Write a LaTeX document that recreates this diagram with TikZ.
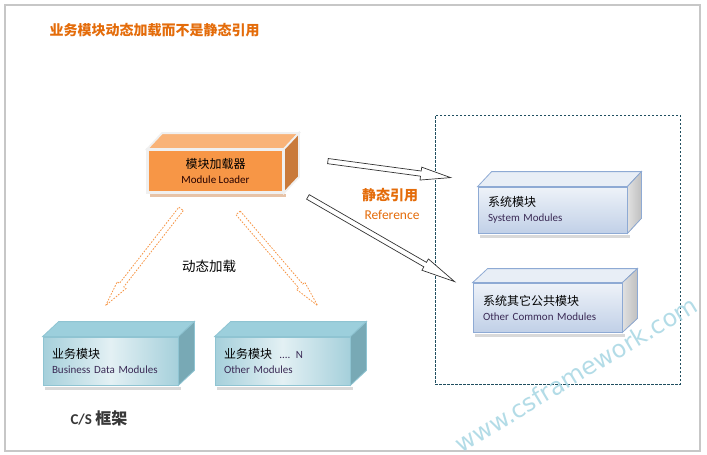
\documentclass[tikz,border=0pt]{standalone}
\usepackage{fontspec}
\setmainfont{Carlito}
\newfontfamily\cjk{Noto Sans CJK SC}
\newfontfamily\wmfont{DejaVu Sans}
\newcommand{\zh}{\cjk\fontsize{12}{14}\selectfont}
\usetikzlibrary{calc}
\definecolor{titleorange}{HTML}{E46C0A}
\definecolor{ldfront}{HTML}{F79646}
\definecolor{ldtop}{HTML}{F9B378}
\definecolor{ldside}{HTML}{C97A3B}
\definecolor{sysedge}{HTML}{8EAAD4}
\definecolor{bustop}{HTML}{9CCFDC}
\definecolor{busside}{HTML}{78A9B5}
\definecolor{busedge}{HTML}{8FC4D2}
\definecolor{grpline}{HTML}{1F4E5F}
\definecolor{engtext}{HTML}{3A2A55}
\definecolor{wmark}{HTML}{A6D6E3}

% front face given by a node, top and side faces drawn from its anchors
\newcommand{\boxfaces}[5]{%
  \filldraw[#4] (#1.north west) -- ($(#1.north west)+(#2,-#3)$) -- ($(#1.north east)+(#2,-#3)$) -- (#1.north east) -- cycle;
  \filldraw[#5] (#1.north east) -- ($(#1.north east)+(#2,-#3)$) -- ($(#1.south east)+(#2,-#3)$) -- (#1.south east) -- cycle;
}
% hollow block arrow: from, to, shaft half width, head half width, head length, style
\newcommand{\blockarrow}[6]{%
  \coordinate (ah) at ($(#2)!#5!(#1)$);
  \filldraw[#6] ($(#1)!#3!90:(#2)$) -- ($(ah)!#3!90:(#2)$) -- ($(ah)!#4!90:(#2)$) -- (#2)
    -- ($(ah)!#4!-90:(#2)$) -- ($(ah)!#3!-90:(#2)$) -- ($(#1)!#3!-90:(#2)$) -- cycle;
}

\begin{document}
\begin{tikzpicture}[x=1pt,y=-1pt,
  frontbox/.style={inner sep=0pt, align=left, font=\fontsize{11}{13}\selectfont},
  loaderbox/.style={frontbox, fill=ldfront, draw=white!94!black, line width=1.8pt,
    minimum width=135pt, minimum height=42pt, align=center},
  sysbox/.style={frontbox, top color=white!85!sysedge, bottom color=sysedge!55,
    draw=sysedge, line width=0.8pt, minimum width=149pt, text width=129pt},
  busbox/.style={frontbox, left color=busedge!80, right color=busedge!80, middle color=busedge!25,
    draw=busedge, line width=0.8pt, minimum width=135pt, minimum height=48pt, text width=117pt},
  refarrow/.style={draw=black!80, fill=white, line width=0.7pt},
  loadarrow/.style={draw=ldfront, fill=white, line width=0.8pt, dash pattern=on 1.6pt off 1.4pt},
  grp/.style={draw=grpline, line width=0.6pt, dash pattern=on 2.5pt off 1.5pt,
    minimum width=245pt, minimum height=269pt}]

\useasboundingbox (0,0) rectangle (707,455);
\fill[white] (0,0) rectangle (707,455);
\draw[line width=2.5pt, black!22] (5,5) rectangle (700,451);

\node[anchor=west, text=titleorange, font=\cjk\bfseries\fontsize{14}{16}\selectfont] (title) at (46,30)
  {业务模块动态加载而不是静态引用};

% loader
\fill[ldside!45] (150,194) rectangle (286,197);
\node[loaderbox] (loader) at (215.5,171)
  {{\zh 模块加载器}\\[2pt]\textcolor{black!85!red}{Module Loader}};
\boxfaces{loader}{15}{16}{fill=ldtop, draw=white!94!black, line width=1.8pt}{fill=ldside, draw=white!94!black, line width=1.8pt}
\draw[white!94!black, line width=1.8pt] (loader.north west) rectangle (loader.south east);

% system modules group
\node[grp] (group) at (557.5,249.5) {};
\fill[black!15] (480,235) rectangle (630,238);
\node[sysbox, minimum height=46pt] (sys) at (552.5,210)
  {{\zh 系统模块}\\[2pt]\textcolor{engtext}{System Modules}};
\boxfaces{sys}{14}{15}{fill=white!80!sysedge, draw=sysedge, line width=0.8pt}{left color=black!12, right color=black!25, draw=sysedge, line width=0.8pt}
\fill[black!15] (475,334) rectangle (625,337);
\node[sysbox, minimum height=49pt] (common) at (547.5,307.5)
  {{\zh 系统其它公共模块}\\[2pt]\textcolor{engtext}{Other Common Modules}};
\boxfaces{common}{15}{14}{fill=white!80!sysedge, draw=sysedge, line width=0.8pt}{left color=black!12, right color=black!25, draw=sysedge, line width=0.8pt}

% business modules
\fill[black!15] (45,387) rectangle (181,390);
\node[busbox] (bus) at (110.5,361)
  {{\zh 业务模块}\\[2pt]\textcolor{engtext}{Business Data Modules}};
\boxfaces{bus}{16}{15}{fill=bustop, draw=busedge, line width=0.8pt}{fill=busside, draw=busedge, line width=0.8pt}
\fill[black!15] (217,387) rectangle (353,390);
\node[busbox] (other) at (282.5,361)
  {{\zh 业务模块}\ \ \textcolor{engtext}{.... N}\\[2pt]\textcolor{engtext}{Other Modules}};
\boxfaces{other}{16}{15}{fill=bustop, draw=busedge, line width=0.8pt}{fill=busside, draw=busedge, line width=0.8pt}

% static references
\coordinate (r1s) at ($(loader.north east)+(44,12)$);
\coordinate (r1e) at ($(sys.north west)+(-27,-9)$);
\coordinate (r2s) at ($(loader.south east)+(24,4)$);
\coordinate (r2e) at ($(common.north west)+(-18,-1)$);
\blockarrow{r1s}{r1e}{2.6pt}{6.5pt}{30pt}{refarrow}
\blockarrow{r2s}{r2e}{2.6pt}{6.5pt}{34pt}{refarrow}
\node[text=titleorange, font=\cjk\bfseries\fontsize{14}{16}\selectfont] (refcn) at (390,195) {静态引用};
\node[text=titleorange, font=\fontsize{13.5}{15}\selectfont] (refen) at (392,215) {Reference};

% dynamic loading
\coordinate (d1s) at ($(loader.south west)+(34,16)$);
\coordinate (d1e) at ($(bus.north west)+(63,-31)$);
\coordinate (d2s) at ($(loader.south west)+(91,20)$);
\coordinate (d2e) at ($(other.north west)+(103,-31)$);
\blockarrow{d1s}{d1e}{2.8pt}{5.5pt}{26pt}{loadarrow}
\blockarrow{d2s}{d2e}{2.8pt}{5.5pt}{26pt}{loadarrow}
\node[font=\cjk\fontsize{13.5}{15}\selectfont] (dyn) at (209,266) {动态加载};

\node[anchor=west, text=black!78, font=\bfseries\fontsize{15}{17}\selectfont] (cs) at (67,418)
  {C/S {\cjk\fontsize{16}{18}\selectfont 框架}};

% watermark
\node[rotate=31, text=wmark, opacity=0.85, font=\wmfont\fontsize{24}{26}\selectfont] (mark) at (576,374)
  {www.csframework.com};
\end{tikzpicture}
\end{document}
